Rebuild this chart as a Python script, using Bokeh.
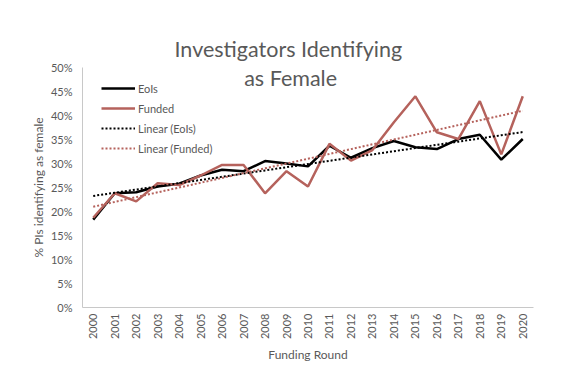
import numpy as np
from bokeh.plotting import figure
from bokeh.models import Range1d, FixedTicker, NumeralTickFormatter, Label
from bokeh.embed import file_html
from bokeh.resources import INLINE

years = list(range(2000, 2021))
eols = [0.183, 0.238, 0.240, 0.252, 0.258, 0.275, 0.287, 0.284, 0.305, 0.300, 0.294,
        0.337, 0.312, 0.332, 0.347, 0.334, 0.330, 0.351, 0.360, 0.308, 0.351]
funded = [0.187, 0.238, 0.221, 0.259, 0.255, 0.275, 0.297, 0.297, 0.238, 0.284, 0.252,
          0.341, 0.306, 0.328, 0.386, 0.440, 0.365, 0.351, 0.430, 0.319, 0.440]
y_ticks = [0, 0.05, 0.10, 0.15, 0.20, 0.25, 0.30, 0.35, 0.40, 0.45, 0.50]
title_lines = ["Investigators Identifying", "as Female"]

# linear trendlines (least squares, like Excel's "Linear" trendline)
xa = np.array(years, dtype=float)
ce = np.polyfit(xa, np.array(eols), 1)
cf = np.polyfit(xa, np.array(funded), 1)
trend_eols = list(np.polyval(ce, xa))
trend_funded = list(np.polyval(cf, xa))

GRAY = "#595959"
FUND = "#b5625c"
FONT = "Lato"

p = figure(frame_width=451, frame_height=240,
           min_border_left=82, min_border_right=42, min_border_top=67, min_border_bottom=82,
           x_range=Range1d(1999.5, 2020.5), y_range=Range1d(0, 0.5),
           output_backend="svg", toolbar_location=None, background_fill_color="white",
           border_fill_color="white")
p.outline_line_color = None
p.xgrid.visible = False
p.ygrid.visible = False

p.line(years, eols, line_color="black", line_width=2.5, legend_label="EoIs")
p.line(years, funded, line_color=FUND, line_width=2.5, legend_label="Funded")
p.line(years, trend_eols, line_color="black", line_width=2, line_dash="2 2", legend_label="Linear (EoIs)")
p.line(years, trend_funded, line_color=FUND, line_width=2, line_dash="2 2", legend_label="Linear (Funded)")

# axes
p.xaxis.ticker = FixedTicker(ticks=years)
p.xaxis.major_label_orientation = np.pi / 2
p.xaxis.axis_label = "Funding Round"
p.yaxis.ticker = FixedTicker(ticks=y_ticks)
p.yaxis.formatter = NumeralTickFormatter(format="0%")
p.yaxis.axis_label = "% PIs identifying as female"
for ax in (p.xaxis[0], p.yaxis[0]):
    ax.axis_line_color = "#c8c8c8"
    ax.axis_line_width = 1
    ax.major_tick_line_color = None
    ax.minor_tick_line_color = None
    ax.major_tick_out = 0
    ax.major_tick_in = 0
    ax.major_label_text_font = FONT
    ax.major_label_text_font_size = "11px"
    ax.major_label_text_color = GRAY
    ax.axis_label_text_font = FONT
    ax.axis_label_text_font_size = "12px"
    ax.axis_label_text_color = GRAY
    ax.axis_label_text_font_style = "normal"
p.yaxis.major_label_standoff = 10
p.yaxis.axis_label_standoff = 2
p.xaxis.major_label_standoff = 6
p.xaxis.axis_label_standoff = 5

# legend
lg = p.legend[0]
lg.location = (19, 149)
lg.border_line_color = None
lg.background_fill_alpha = 0
lg.padding = 0
lg.margin = 0
lg.spacing = 0
lg.glyph_width = 34
lg.glyph_height = 20
lg.label_height = 20
lg.label_standoff = 3
lg.label_text_font = FONT
lg.label_text_font_size = "11px"
lg.label_text_color = GRAY

# title: first line above the frame, second line overlapping the plot area
p.title.text = title_lines[0]
p.title.align = "left"
p.title.offset = 92
p.title.standoff = 12
p.title.text_font = FONT
p.title.text_font_size = "21.5px"
p.title.text_font_style = "normal"
p.title.text_color = GRAY
p.add_layout(Label(x=2009.19, y=0.479, text=title_lines[1], text_align="center",
                   text_baseline="alphabetic", text_font=FONT, text_font_size="21.5px",
                   text_color=GRAY))

open("out.html", "w").write(file_html(p, INLINE))
